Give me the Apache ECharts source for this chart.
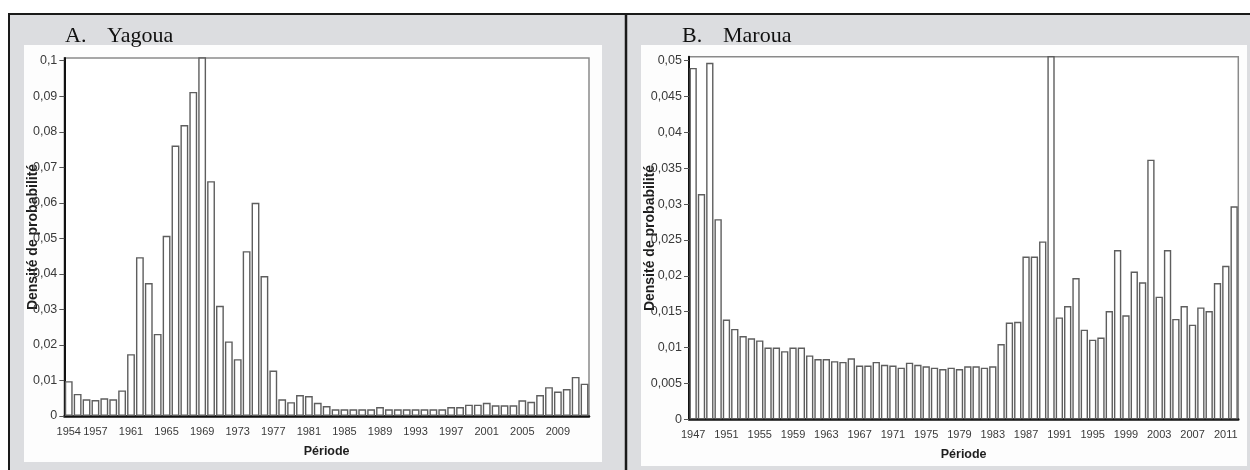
<!DOCTYPE html>
<html>
<head>
<meta charset="utf-8">
<script src="https://cdn.jsdelivr.net/npm/echarts@6/dist/echarts.min.js"></script>
<style>
  html, body { margin: 0; padding: 0; background: #fff; }
  #chart { width: 1250px; height: 470px; }
</style>
</head>
<body>
<div id="chart"></div>
<script>
// A. Yagoua : 1954 - 2012
var yearsA = ['1954','1955','1956','1957','1958','1959','1960','1961','1962','1963',
  '1964','1965','1966','1967','1968','1969','1970','1971','1972','1973',
  '1974','1975','1976','1977','1978','1979','1980','1981','1982','1983',
  '1984','1985','1986','1987','1988','1989','1990','1991','1992','1993',
  '1994','1995','1996','1997','1998','1999','2000','2001','2002','2003',
  '2004','2005','2006','2007','2008','2009','2010','2011','2012'];
var densiteA = [0.0098,0.0062,0.0047,0.0045,0.0050,0.0047,0.0072,0.0174,0.0447,0.0374,
  0.0231,0.0507,0.0761,0.0819,0.0912,0.1300,0.0661,0.0310,0.0210,0.0160,
  0.0464,0.0600,0.0394,0.0128,0.0047,0.0039,0.0059,0.0056,0.0037,0.0028,
  0.0019,0.0019,0.0019,0.0019,0.0019,0.0025,0.0019,0.0019,0.0019,0.0019,
  0.0019,0.0019,0.0019,0.0025,0.0025,0.0032,0.0032,0.0037,0.0030,0.0030,
  0.0030,0.0044,0.0040,0.0059,0.0081,0.0069,0.0076,0.0110,0.0091];
var ticksA = [0,0.01,0.02,0.03,0.04,0.05,0.06,0.07,0.08,0.09,0.1];

// B. Maroua : 1947 - 2012
var yearsB = ['1947','1948','1949','1950','1951','1952','1953','1954','1955','1956',
  '1957','1958','1959','1960','1961','1962','1963','1964','1965','1966',
  '1967','1968','1969','1970','1971','1972','1973','1974','1975','1976',
  '1977','1978','1979','1980','1981','1982','1983','1984','1985','1986',
  '1987','1988','1989','1990','1991','1992','1993','1994','1995','1996',
  '1997','1998','1999','2000','2001','2002','2003','2004','2005','2006',
  '2007','2008','2009','2010','2011','2012'];
var densiteB = [0.0490,0.0314,0.0497,0.0279,0.0139,0.0126,0.0116,0.0113,0.0110,0.0100,
  0.0100,0.0095,0.0100,0.0100,0.0089,0.0084,0.0084,0.0081,0.0080,0.0085,
  0.0075,0.0075,0.0080,0.0076,0.0075,0.0072,0.0079,0.0076,0.0074,0.0072,
  0.0070,0.0072,0.0070,0.0074,0.0074,0.0072,0.0074,0.0105,0.0135,0.0136,
  0.0227,0.0227,0.0248,0.0700,0.0142,0.0158,0.0197,0.0125,0.0111,0.0114,
  0.0151,0.0236,0.0145,0.0206,0.0191,0.0362,0.0171,0.0236,0.0140,0.0158,
  0.0132,0.0156,0.0151,0.0190,0.0214,0.0297];
var ticksB = [0,0.005,0.01,0.015,0.02,0.025,0.03,0.035,0.04,0.045,0.05];

var chart = echarts.init(document.getElementById('chart'));

function virgule(v) {
  return String(+(+v).toFixed(4)).replace('.', ',');
}

var labelStyle = { color: '#3a3a3a', fontFamily: 'Liberation Sans', fontSize: 11 };
var nameStyle = { color: '#1e1e1e', fontFamily: 'Liberation Sans', fontSize: 14, fontWeight: 'bold' };
var titleStyle = { fontFamily: 'Liberation Serif', fontSize: 22, fontWeight: 'normal', color: '#111' };

function xAxe(idx, years, showIdx) {
  return {
    type: 'category', gridIndex: idx, data: years,
    axisLine: { lineStyle: { color: '#111', width: 2.5 } },
    axisTick: { alignWithLabel: true, length: 5, interval: showIdx, lineStyle: { color: '#555' } },
    axisLabel: Object.assign({ interval: showIdx, margin: 10 }, labelStyle),
    name: 'Période', nameLocation: 'middle', nameGap: 29, nameMoveOverlap: false,
    nameTextStyle: Object.assign({}, nameStyle, { fontSize: 12.5 }),
    splitLine: { show: false }
  };
}

function yAxe(idx, max, ticks, gap) {
  return {
    type: 'value', gridIndex: idx, min: 0, max: max,
    axisLine: { show: true, lineStyle: { color: '#111', width: 2 } },
    axisTick: { show: true, length: 5, customValues: ticks, lineStyle: { color: '#555' } },
    axisLabel: Object.assign({ margin: 7, customValues: ticks, formatter: virgule }, labelStyle, { fontSize: 12.5 }),
    splitLine: { show: false },
    name: 'Densité de probabilité', nameLocation: 'middle', nameGap: gap, nameMoveOverlap: false,
    nameTextStyle: nameStyle
  };
}

var barStyle = { color: '#ffffff', borderColor: '#5e5e5e', borderWidth: 1.4 };

var option = {
  animation: false,
  backgroundColor: '#fff',
  title: [
    { text: 'A.', left: 60, top: 20, textStyle: titleStyle },
    { text: 'Yagoua', left: 102, top: 20, textStyle: titleStyle },
    { text: 'B.', left: 677, top: 20, textStyle: titleStyle },
    { text: 'Maroua', left: 718, top: 20, textStyle: titleStyle }
  ],
  graphic: [
    { type: 'rect', z: -10, shape: { x: 9, y: 14, width: 1241, height: 456 }, style: { fill: '#dcdde0' } },
    { type: 'rect', z: -9, shape: { x: 24, y: 45, width: 578, height: 417 }, style: { fill: '#fdfdfd' } },
    { type: 'rect', z: -9, shape: { x: 641, y: 45, width: 606, height: 421 }, style: { fill: '#fdfdfd' } },
    { type: 'line', z: -8, shape: { x1: 8, y1: 14, x2: 1250, y2: 14 }, style: { stroke: '#1a1a1a', lineWidth: 2 } },
    { type: 'line', z: -8, shape: { x1: 9, y1: 13, x2: 9, y2: 470 }, style: { stroke: '#1a1a1a', lineWidth: 2 } },
    { type: 'line', z: -8, shape: { x1: 626, y1: 13, x2: 626, y2: 470 }, style: { stroke: '#1a1a1a', lineWidth: 2.5 } }
  ],
  grid: [
    { left: 64.3, top: 58, width: 524.7, height: 358, show: true, backgroundColor: '#fff', borderColor: '#8a8a8a', borderWidth: 1.5 },
    { left: 689, top: 56.7, width: 549.3, height: 362.6, show: true, backgroundColor: '#fff', borderColor: '#8a8a8a', borderWidth: 1.5 }
  ],
  xAxis: [
    xAxe(0, yearsA, function (i) { return i === 0 || (i - 3) % 4 === 0; }),
    xAxe(1, yearsB, function (i) { return i % 4 === 0; })
  ],
  yAxis: [
    yAxe(0, 0.10076, ticksA, 24),
    yAxe(1, 0.05056, ticksB, 32)
  ],
  series: [
    { type: 'bar', xAxisIndex: 0, yAxisIndex: 0, data: densiteA, barCategoryGap: '12%', itemStyle: barStyle, clip: true },
    { type: 'bar', xAxisIndex: 1, yAxisIndex: 1, data: densiteB, barCategoryGap: '12%', itemStyle: barStyle, clip: true }
  ]
};

chart.setOption(option);
</script>
</body>
</html>
